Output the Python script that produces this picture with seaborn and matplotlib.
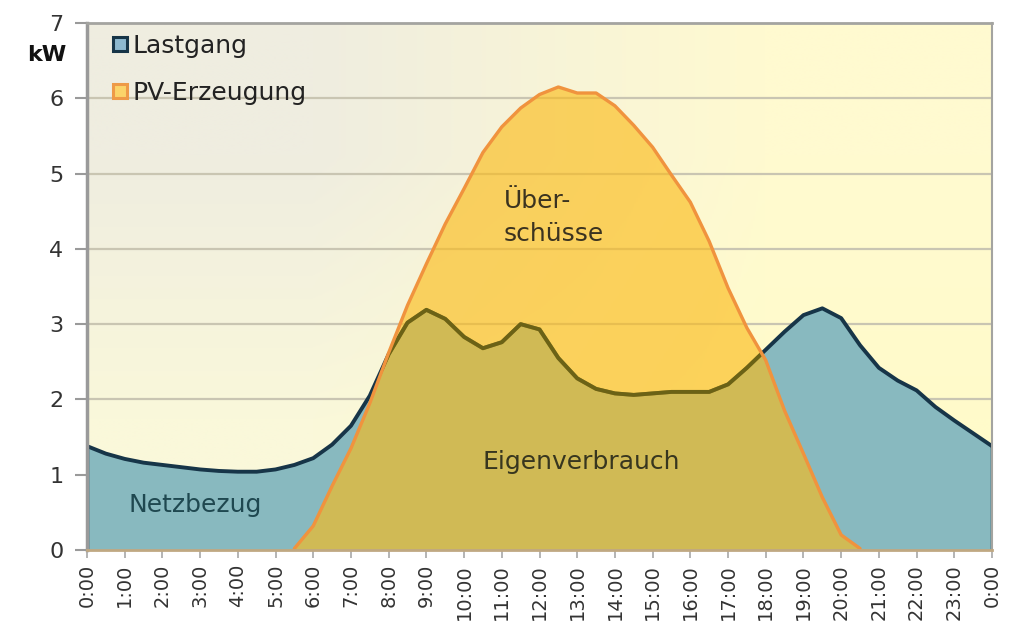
import numpy as np
import pandas as pd
import seaborn as sns
import matplotlib.pyplot as plt
from matplotlib.lines import Line2D

# half-hour steps, 0:00 .. 24:00
hours = np.arange(0, 24.5, 0.5)

lastgang = [1.38, 1.28, 1.21, 1.16, 1.13, 1.10, 1.07, 1.05, 1.04, 1.04,
            1.07, 1.13, 1.22, 1.40, 1.65, 2.05, 2.60, 3.02, 3.19, 3.07,
            2.83, 2.68, 2.76, 3.00, 2.93, 2.55, 2.28, 2.14, 2.08, 2.06,
            2.08, 2.10, 2.10, 2.10, 2.20, 2.42, 2.66, 2.90, 3.12, 3.21,
            3.08, 2.72, 2.42, 2.25, 2.12, 1.90, 1.72, 1.55, 1.38]

pv = [0, 0, 0, 0, 0, 0, 0, 0, 0, 0,
      0, 0.02, 0.32, 0.85, 1.35, 1.95, 2.62, 3.25, 3.80, 4.33,
      4.80, 5.28, 5.62, 5.87, 6.05, 6.15, 6.07, 6.07, 5.90, 5.64,
      5.35, 4.98, 4.62, 4.10, 3.48, 2.95, 2.52, 1.85, 1.28, 0.70,
      0.20, 0.02, 0, 0, 0, 0, 0, 0, 0]

tick_hours = list(range(25))
tick_labels = [f"{h % 24}:00" for h in tick_hours]
series_names = ["Lastgang", "PV-Erzeugung"]

df = pd.DataFrame({"Stunde": hours, "Lastgang": lastgang, "PV": pv})
# only the part of the PV curve where the sun is up gets an outline
pv_day = df.iloc[11:42]

sns.set_theme(style="white")
plt.rcParams['font.family'] = ['DejaVu Sans']

fig = plt.figure(figsize=(10.09, 6.41), dpi=100)
ax = fig.add_axes([87 / 1009, 91 / 641, 905 / 1009, 527 / 641])

# soft background gradient (greyish top-left -> pale yellow)
bg = np.array([[[250, 248, 218], [255, 251, 202]],
               [[239, 237, 224], [255, 250, 208]]]) / 255.0
ax.imshow(bg, extent=[0, 24, 0, 7], aspect='auto', origin='lower',
          interpolation='bilinear', zorder=0)

for y in range(1, 7):
    ax.axhline(y, color="#c9c5b2", lw=1.6, zorder=1)

# Lastgang area
ax.fill_between(df["Stunde"], 0, df["Lastgang"], color="#88b9bf", lw=0, zorder=2)
sns.lineplot(data=df, x="Stunde", y="Lastgang", ax=ax, color="#173548",
             lw=2.8, zorder=3, solid_joinstyle="round")
ax.vlines([hours[0], hours[-1]], 0, [lastgang[0], lastgang[-1]],
          color="#173548", lw=2.5, zorder=3)

# PV area, translucent so the overlap turns olive
pv_fill = ax.fill_between(df["Stunde"], 0, df["PV"], color="#fbbb17",
                          alpha=0.63, lw=0, zorder=4)
olive = sns.lineplot(data=df, x="Stunde", y="Lastgang", ax=ax, color="#6b6216",
                     lw=2.8, zorder=5, solid_joinstyle="round")
olive.lines[-1].set_clip_path(pv_fill.get_paths()[0], ax.transData)
sns.lineplot(data=pv_day, x="Stunde", y="PV", ax=ax, color="#f0933e", lw=2.4,
             zorder=6, solid_joinstyle="round")

ax.set_xlim(0, 24)
ax.set_ylim(0, 7)
ax.set_xticks(tick_hours)
ax.set_xticklabels(tick_labels, rotation=90, fontsize=14, color="#333333")
ax.set_yticks(range(8))
ax.set_yticklabels([str(i) for i in range(8)], fontsize=16, color="#333333")
ax.set_xlabel("")
ax.set_ylabel("")
ax.tick_params(axis='y', left=True, length=9, width=1.5, color="#9a9a9a", pad=8)
ax.tick_params(axis='x', bottom=True, length=6, width=1.2, color="#a8a8a8", pad=4)

for side, c, w in [("left", "#9a9a9a", 2.5), ("top", "#a4a4a0", 2),
                   ("right", "#a4a4a0", 1.5), ("bottom", "#c0a882", 2)]:
    ax.spines[side].set_color(c)
    ax.spines[side].set_linewidth(w)
    ax.spines[side].set_zorder(7)

# area labels
ax.text(2.86, 0.60, "Netzbezug", fontsize=18, color="#1f4850",
        ha="center", va="center", zorder=8)
ax.text(13.1, 1.17, "Eigenverbrauch", fontsize=18, color="#37361f",
        ha="center", va="center", zorder=8)
ax.text(11.05, 4.42, "Über-\nschüsse", fontsize=18, color="#3b3320",
        ha="left", va="center", linespacing=1.45, zorder=8)

fig.text(47 / 1009, 1 - 55 / 641, "kW", fontsize=16, fontweight="bold",
         ha="center", va="center", color="#111111")

handles = [
    Line2D([], [], ls="", marker="s", markersize=10, markeredgewidth=2.2,
           markerfacecolor="#8db8cf", markeredgecolor="#173548"),
    Line2D([], [], ls="", marker="s", markersize=10, markeredgewidth=2.2,
           markerfacecolor="#fbd46a", markeredgecolor="#ee9a48"),
]
ax.legend(handles, series_names, loc="upper left", bbox_to_anchor=(0.006, 1.012),
          frameon=False, fontsize=18, handlelength=0.8, handletextpad=0.1,
          labelspacing=0.92, borderaxespad=0.3, labelcolor="#222222")

fig.savefig("out.png", dpi=100, facecolor="white")
